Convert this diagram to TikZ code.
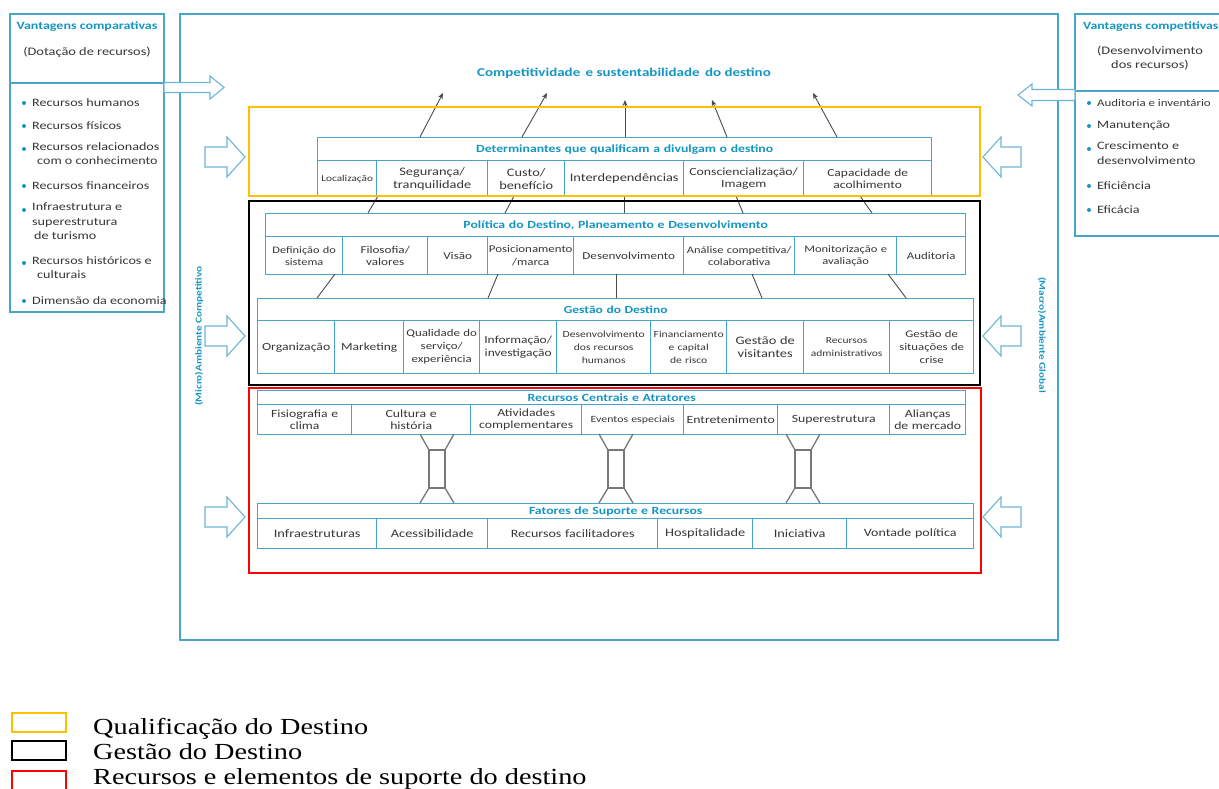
\documentclass[tikz,border=0pt]{standalone}
\usepackage{fontspec}
\setmainfont{Carlito}[FakeStretch=1.25]
\newfontfamily\legfont{Liberation Serif}[FakeStretch=1.23]
\usetikzlibrary{arrows.meta}
\definecolor{tealT}{RGB}{20,150,195}
\definecolor{tealB}{RGB}{70,165,200}
\definecolor{arrowB}{RGB}{110,180,215}
\definecolor{txt}{RGB}{55,55,55}
\definecolor{qual}{RGB}{255,192,0}
\definecolor{redZ}{RGB}{255,0,0}
\definecolor{conn}{RGB}{75,75,75}
\definecolor{beam}{RGB}{120,120,120}
\newcommand\fsz[2]{\fontsize{#1}{#2}\selectfont}
\tikzset{
  cellbox/.style={draw=tealB, line width=1.4pt, fill=white, inner sep=0.5pt, align=center, text=txt, anchor=north west, font=\fsz{11.5}{13}},
  titlebox/.style={cellbox, text=tealT, font=\bfseries\fsz{11}{12}},
  zone/.style={line width=2.5pt},
  uparrow/.style={-{Stealth[length=6pt,width=5pt]}, conn, line width=0.9pt},
  link/.style={conn, line width=0.9pt},
  hollow/.style={draw=arrowB, line width=1.1pt, fill=white},
  paneltxt/.style={anchor=west, align=left, text=txt, font=\fsz{11.3}{14.5}, inner sep=0pt},
  bul/.style={fill=tealT, draw=none, circle, inner sep=0pt, minimum size=4pt},
  sidelabel/.style={text=tealT, font=\bfseries\fsz{9}{10}, inner sep=0pt},
  beamline/.style={draw=beam, line width=1.3pt}
}
\newcommand\dcell[7][]{%
  \pgfmathsetmacro\dcw{#4-#3}\pgfmathsetmacro\dch{#6-#5}\pgfmathsetmacro\dtw{#4-#3-1.5}%
  \node[cellbox, minimum width=\dcw pt, minimum height=\dch pt, text width=\dtw pt, #1] (#2) at (#3,#5) {#7};}
\newcommand\harr[6]{% xs, xe, yc, shaft half, head half, head len (signed)
  \pgfmathsetmacro\hbx{#2-#6}%
  \pgfmathsetmacro\hya{#3-#4}\pgfmathsetmacro\hyb{#3+#4}%
  \pgfmathsetmacro\hyc{#3-#5}\pgfmathsetmacro\hyd{#3+#5}%
  \draw[hollow] (#1,\hya) -- (\hbx,\hya) -- (\hbx,\hyc) -- (#2,#3) -- (\hbx,\hyd) -- (\hbx,\hyb) -- (#1,\hyb) -- cycle;}
\newcommand\ibeam[1]{%
  \draw[beamline] (#1-17,434) -- (#1-8,450) (#1+17,434) -- (#1+8,450)
    (#1-8,488) -- (#1-17,503) (#1+8,488) -- (#1+17,503);
  \draw[beamline] (#1-8,450) rectangle (#1+8,488);}
\begin{document}
\begin{tikzpicture}[x=1pt,y=-1pt]
\useasboundingbox (0,0) rectangle (1219,789);
\fill[white] (0,0) rectangle (1219,789);

% outer environment box
\draw[draw=tealB, line width=1.5pt] (180,14) rectangle (1058,640);

% left panel
\draw[draw=tealB, line width=1.5pt] (10,14) rectangle (164,312);
\draw[draw=tealB, line width=1.5pt] (10,83) -- (164,83);
\node[text=tealT, font=\bfseries\fsz{11.2}{12}] (lt) at (87,27) {Vantagens comparativas};
\node[text=txt, font=\fsz{11.5}{12}] (ls) at (87,52) {(Dotação de recursos)};
\foreach \yy in {103,126,149,186,210,263,301} \node[bul] at (24,\yy) {};
\node[paneltxt] (l1) at (32,103) {Recursos humanos};
\node[paneltxt] (l2) at (32,126) {Recursos físicos};
\node[paneltxt, anchor=north west] (l3) at (32,142) {Recursos relacionados\\\hspace*{5pt}com o conhecimento};
\node[paneltxt] (l4) at (32,186) {Recursos financeiros};
\node[paneltxt, anchor=north west] (l5) at (32,203) {Infraestrutura e\\superestrutura\\\hspace*{2pt}de turismo};
\node[paneltxt, anchor=north west] (l6) at (32,256) {Recursos históricos e\\\hspace*{5pt}culturais};
\node[paneltxt] (l7) at (32,301) {Dimensão da economia};

% right panel
\draw[draw=tealB, line width=1.5pt] (1075,14) rectangle (1235,236);
\draw[draw=tealB, line width=1.5pt] (1075,91) -- (1235,91);
\node[text=tealT, font=\bfseries\fsz{11}{12}, anchor=west, inner sep=0pt] (rt) at (1083,27) {Vantagens competitivas};
\node[text=txt, font=\fsz{11.5}{14}, align=center] (rs) at (1150,58) {(Desenvolvimento\\dos recursos)};
\foreach \yy in {103,126,149,186,210} \node[bul] at (1089,\yy) {};
\node[paneltxt, font=\fsz{10.3}{14.5}] (r1) at (1097,103) {Auditoria e inventário};
\node[paneltxt] (r2) at (1097,126) {Manutenção};
\node[paneltxt, anchor=north west] (r3) at (1097,142) {Crescimento e\\desenvolvimento};
\node[paneltxt] (r4) at (1097,186) {Eficiência};
\node[paneltxt] (r5) at (1097,210) {Eficácia};

% panel arrows
\harr{164}{224}{87.5}{5}{11.5}{14}
\harr{1075}{1018}{95}{5.5}{11}{-14}

% side arrows
\foreach \yc in {157,336,517} {
  \harr{205}{245}{\yc}{10}{20}{18}
  \harr{1021}{983}{\yc}{10}{20}{-18}
}

% vertical labels
\node[sidelabel, rotate=90] (micro) at (199,336) {(Micro)Ambiente Competitivo};
\node[sidelabel, rotate=-90] (macro) at (1042,335) {(Macro)Ambiente Global};

% top title
\node[text=tealT, font=\bfseries\fsz{12}{13}] (comp) at (624,73) {Competitividade\, e sustentabilidade\, do destino};

% Determinants
\dcell[titlebox]{detT}{317}{931}{137}{160}{Determinantes que qualificam a divulgam o destino}
\dcell[font=\fsz{9}{10}]{d1}{317}{376}{160}{196}{Localização}
\dcell{d2}{376}{487}{160}{196}{Segurança/\\tranquilidade}
\dcell{d3}{487}{564}{160}{196}{Custo/\\benefício}
\dcell{d4}{564}{683}{160}{196}{Interdependências}
\dcell[font=\fsz{11}{12.5}]{d5}{683}{803}{160}{196}{Consciencialização/\\Imagem}
\dcell[font=\fsz{10.8}{12.5}]{d6}{803}{931}{160}{196}{Capacidade de\\acolhimento}

% Politica
\dcell[titlebox]{polT}{265}{965}{213}{236}{Política do Destino, Planeamento e Desenvolvimento}
\dcell[font=\fsz{9.9}{12}]{p1}{265}{342}{236}{274}{Definição do\\sistema}
\dcell[font=\fsz{10.5}{12.5}]{p2}{342}{427}{236}{274}{Filosofia/\\valores}
\dcell[font=\fsz{10.5}{12.5}]{p3}{427}{487}{236}{274}{Visão}
\dcell[font=\fsz{10.3}{12.5}]{p4}{487}{573}{236}{274}{Posicionamento\\/marca}
\dcell[font=\fsz{10.5}{12.5}]{p5}{573}{683}{236}{274}{Desenvolvimento}
\dcell[font=\fsz{10}{12}]{p6}{683}{794}{236}{274}{Análise competitiva/\\colaborativa}
\dcell[font=\fsz{10}{12}]{p7}{794}{896}{236}{274}{Monitorização e\\avaliação}
\dcell[font=\fsz{10.3}{12}]{p8}{896}{965}{236}{274}{Auditoria}

% Gestao
\dcell[titlebox, font=\bfseries\fsz{10.8}{12}]{gesT}{257}{973}{298}{320}{Gestão do Destino}
\dcell[font=\fsz{11}{12.5}]{g1}{257}{334}{320}{373}{Organização}
\dcell[font=\fsz{10.8}{12.5}]{g2}{334}{403}{320}{373}{Marketing}
\dcell[font=\fsz{10.3}{13}]{g3}{403}{479}{320}{373}{Qualidade do\\serviço/\\experiência}
\dcell[font=\fsz{10.8}{13}]{g4}{479}{556}{320}{373}{Informação/\\investigação}
\dcell[font=\fsz{9.3}{13}]{g5}{556}{650}{320}{373}{Desenvolvimento\\dos recursos\\humanos}
\dcell[font=\fsz{9.3}{13}]{g6}{650}{726}{320}{373}{Financiamento\\e capital\\de risco}
\dcell{g7}{726}{803}{320}{373}{Gestão de\\visitantes}
\dcell[font=\fsz{9.2}{13}]{g8}{803}{889}{320}{373}{Recursos\\administrativos}
\dcell[font=\fsz{10.2}{13}]{g9}{889}{973}{320}{373}{Gestão de\\situações de\\crise}

% Recursos centrais
\dcell[titlebox, font=\bfseries\fsz{11}{11}, inner ysep=0pt]{recT}{257}{965}{390}{404}{Recursos Centrais e Atratores}
\dcell[font=\fsz{11}{11.5}]{c1}{257}{351}{404}{434}{Fisiografia e\\clima}
\dcell[font=\fsz{11}{11.5}]{c2}{351}{470}{404}{434}{Cultura e\\história}
\dcell[font=\fsz{11}{11.5}]{c3}{470}{581}{404}{434}{Atividades\\complementares}
\dcell[font=\fsz{9.5}{11.5}]{c4}{581}{683}{404}{434}{Eventos especiais}
\dcell[font=\fsz{11}{11.5}]{c5}{683}{777}{404}{434}{Entretenimento}
\dcell[font=\fsz{11}{11.5}]{c6}{777}{889}{404}{434}{Superestrutura}
\dcell[font=\fsz{11}{11.5}]{c7}{889}{965}{404}{434}{Alianças\\de mercado}

% Fatores de suporte
\dcell[titlebox, font=\bfseries\fsz{11}{11}, inner ysep=0pt]{fatT}{257}{973}{503}{518}{Fatores de Suporte e Recursos}
\dcell{f1}{257}{376}{518}{548}{Infraestruturas}
\dcell{f2}{376}{487}{518}{548}{Acessibilidade}
\dcell[font=\fsz{11.2}{12}]{f3}{487}{657}{518}{548}{Recursos facilitadores}
\dcell{f4}{657}{752}{518}{548}{Hospitalidade}
\dcell{f5}{752}{846}{518}{548}{Iniciativa}
\dcell[font=\fsz{11.2}{12}]{f6}{846}{973}{518}{548}{Vontade política}

% I-beam links between resources and support factors
\ibeam{437}
\ibeam{616}
\ibeam{803}

% upward arrows to competitiveness
\coordinate (u1s) at (420,137); \coordinate (u1e) at (443,93);
\coordinate (u2s) at (522,137); \coordinate (u2e) at (547,93);
\coordinate (u3s) at (625,137); \coordinate (u3e) at (625,100);
\coordinate (u4s) at (727,137); \coordinate (u4e) at (712,100);
\coordinate (u5s) at (837,137); \coordinate (u5e) at (813,93);
\foreach \i in {1,...,5} \draw[uparrow] (u\i s) -- (u\i e);

% links determinants -> policy
\coordinate (a1) at (378,196); \coordinate (b1) at (368,213);
\coordinate (a2) at (514,196); \coordinate (b2) at (505,213);
\coordinate (a3) at (624,196); \coordinate (b3) at (624,213);
\coordinate (a4) at (736,196); \coordinate (b4) at (743,213);
\coordinate (a5) at (860,196); \coordinate (b5) at (872,213);
\foreach \i in {1,...,5} \draw[link] (a\i) -- (b\i);

% links policy -> management
\coordinate (c1) at (335,274); \coordinate (e1) at (317,298);
\coordinate (c2) at (498,274); \coordinate (e2) at (488,298);
\coordinate (c3) at (616,274); \coordinate (e3) at (616,298);
\coordinate (c4) at (752,274); \coordinate (e4) at (762,298);
\coordinate (c5) at (888,274); \coordinate (e5) at (906,298);
\foreach \i in {1,...,5} \draw[link] (c\i) -- (e\i);

% zone frames
\draw[zone, draw=qual] (249,107) rectangle (980,196);
\draw[zone, draw=black] (249,201) rectangle (980,385);
\draw[zone, draw=redZ] (249,388) rectangle (981,573);

% legend
\draw[zone, draw=qual] (12,713) rectangle (66,732);
\draw[zone, draw=black] (12,741) rectangle (66,760);
\draw[zone, draw=redZ] (12,771) rectangle (66,795);
\node[anchor=base west, inner sep=0pt, font=\legfont\fsz{23}{25}] (leg1) at (93,734) {Qualificação do Destino};
\node[anchor=base west, inner sep=0pt, font=\legfont\fsz{23}{25}] (leg2) at (93,759) {Gestão do Destino};
\node[anchor=base west, inner sep=0pt, font=\legfont\fsz{23}{25}] (leg3) at (93,784) {Recursos e elementos de suporte do destino};
\end{tikzpicture}
\end{document}
